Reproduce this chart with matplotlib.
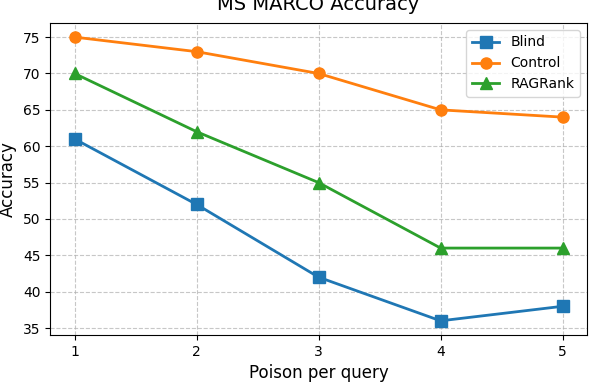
import matplotlib
matplotlib.use('Agg')
import matplotlib.pyplot as plt

poison = [1, 2, 3, 4, 5]
blind = [61, 52, 42, 36, 38]
control = [75, 73, 70, 65, 64]
ragrank = [70, 62, 55, 46, 46]

fig = plt.figure(figsize=(5.9, 3.82), dpi=100)
ax = fig.add_axes([0.085, 0.123, 0.91, 0.817])

ax.plot(poison, blind, marker='s', color='#1f77b4', linewidth=2, markersize=8, label='Blind')
ax.plot(poison, control, marker='o', color='#ff7f0e', linewidth=2, markersize=8, label='Control')
ax.plot(poison, ragrank, marker='^', color='#2ca02c', linewidth=2, markersize=8, label='RAGRank')

ax.set_title('MS MARCO Accuracy', fontsize=14, pad=9)
ax.set_xlabel('Poison per query', fontsize=12)
ax.set_ylabel('Accuracy', fontsize=12)
ax.set_xticks(poison)
ax.grid(True, linestyle='--', alpha=0.7)
ax.legend(loc='upper right', fontsize=10)

fig.savefig('out.png', dpi=100)
